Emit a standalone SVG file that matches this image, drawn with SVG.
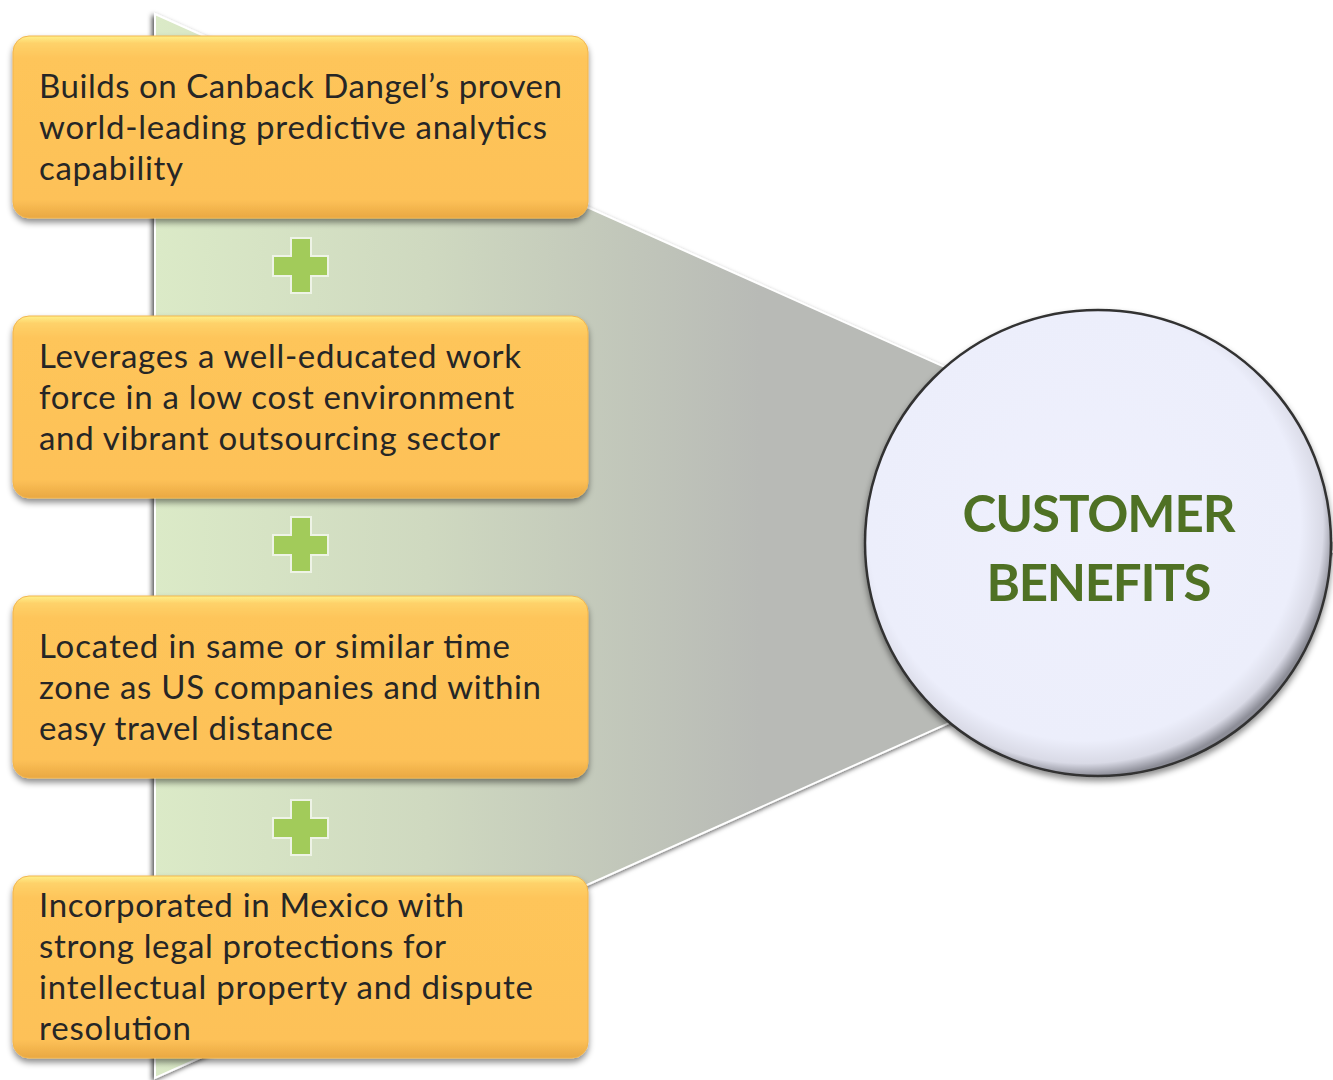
<svg xmlns="http://www.w3.org/2000/svg" width="1333" height="1080" viewBox="0 0 1333 1080">
<defs>
  <linearGradient id="funnelFill" x1="155" y1="0" x2="760" y2="0" gradientUnits="userSpaceOnUse">
    <stop offset="0" stop-color="#dbeac7"/>
    <stop offset="0.45" stop-color="#cfd9c0"/>
    <stop offset="1" stop-color="#b8bab6"/>
  </linearGradient>
  <linearGradient id="boxFill" x1="0" y1="0" x2="0" y2="1">
    <stop offset="0" stop-color="#fff08a"/>
    <stop offset="0.04" stop-color="#fed26a"/>
    <stop offset="0.12" stop-color="#fec55a"/>
    <stop offset="0.9" stop-color="#fdc158"/>
    <stop offset="1" stop-color="#e9a842"/>
  </linearGradient>
  <radialGradient id="circFill" cx="0.47" cy="0.46" r="0.54">
    <stop offset="0" stop-color="#eff0fd"/>
    <stop offset="0.86" stop-color="#eceefb"/>
    <stop offset="0.95" stop-color="#d9dae6"/>
    <stop offset="1" stop-color="#8d8e98"/>
  </radialGradient>
  <filter id="shadow" x="-10%" y="-10%" width="120%" height="130%">
    <feDropShadow dx="0" dy="4" stdDeviation="3" flood-color="#000" flood-opacity="0.45"/>
  </filter>
  <filter id="fshadow" x="-10%" y="-10%" width="120%" height="120%">
    <feDropShadow dx="-2" dy="2" stdDeviation="2.5" flood-color="#000" flood-opacity="0.7"/>
  </filter>
  <style>
    .box { fill: url(#boxFill); stroke: #f2b54c; stroke-width: 1; filter: url(#shadow); }
    .txt { font-family: "Lato", "Open Sans", "Liberation Sans", sans-serif; font-size: 33px; fill: #262626; }
    .plus { fill: #a2cb5a; stroke: #eef3e6; stroke-width: 2; }
    .title { font-family: "Lato", "Open Sans", "Liberation Sans", sans-serif; font-weight: bold; font-size: 51px; fill: #4f7124; text-anchor: middle; }
  </style>
</defs>
<rect width="1333" height="1080" fill="#ffffff"/>

<g id="funnel">
  <polygon points="155,14 1345,546 155,1078" fill="url(#funnelFill)" stroke="#ffffff" stroke-width="2" filter="url(#fshadow)"/>
</g>

<g id="connectors">
  <g id="plus1"><path class="plus" d="M291,238 h20 v18 h17 v20 h-17 v17 h-20 v-17 h-18 v-20 h18 z"/></g>
  <g id="plus2"><path class="plus" d="M291,517 h20 v18 h17 v20 h-17 v17 h-20 v-17 h-18 v-20 h18 z"/></g>
  <g id="plus3"><path class="plus" d="M291,800 h20 v18 h17 v20 h-17 v17 h-20 v-17 h-18 v-20 h18 z"/></g>
</g>

<g id="box1">
  <rect class="box" x="13" y="36" width="575" height="182" rx="16"/>
  <text class="txt" x="39" y="98" textLength="523">Builds on Canback Dangel’s proven</text>
  <text class="txt" x="39" y="139" textLength="508">world-leading predictive analytics</text>
  <text class="txt" x="39" y="180" textLength="144">capability</text>
</g>

<g id="box2">
  <rect class="box" x="13" y="316" width="575" height="182" rx="16"/>
  <text class="txt" x="39" y="368" textLength="482">Leverages a well-educated work</text>
  <text class="txt" x="39" y="409" textLength="475">force in a low cost environment</text>
  <text class="txt" x="39" y="450" textLength="461">and vibrant outsourcing sector</text>
</g>

<g id="box3">
  <rect class="box" x="13" y="596" width="575" height="182" rx="16"/>
  <text class="txt" x="39" y="658" textLength="471">Located in same or similar time</text>
  <text class="txt" x="39" y="699" textLength="502">zone as US companies and within</text>
  <text class="txt" x="39" y="740" textLength="294">easy travel distance</text>
</g>

<g id="box4">
  <rect class="box" x="13" y="876" width="575" height="182" rx="16"/>
  <text class="txt" x="39" y="917" textLength="425">Incorporated in Mexico with</text>
  <text class="txt" x="39" y="958" textLength="407">strong legal protections for</text>
  <text class="txt" x="39" y="999" textLength="494">intellectual property and dispute</text>
  <text class="txt" x="39" y="1040" textLength="152">resolution</text>
</g>

<g id="benefits">
  <circle cx="1098" cy="543" r="233" fill="url(#circFill)" stroke="#333333" stroke-width="2.5" filter="url(#shadow)"/>
  <text class="title" x="1099" y="532" textLength="273">CUSTOMER</text>
  <text class="title" x="1099" y="601" textLength="225">BENEFITS</text>
</g>
</svg>
